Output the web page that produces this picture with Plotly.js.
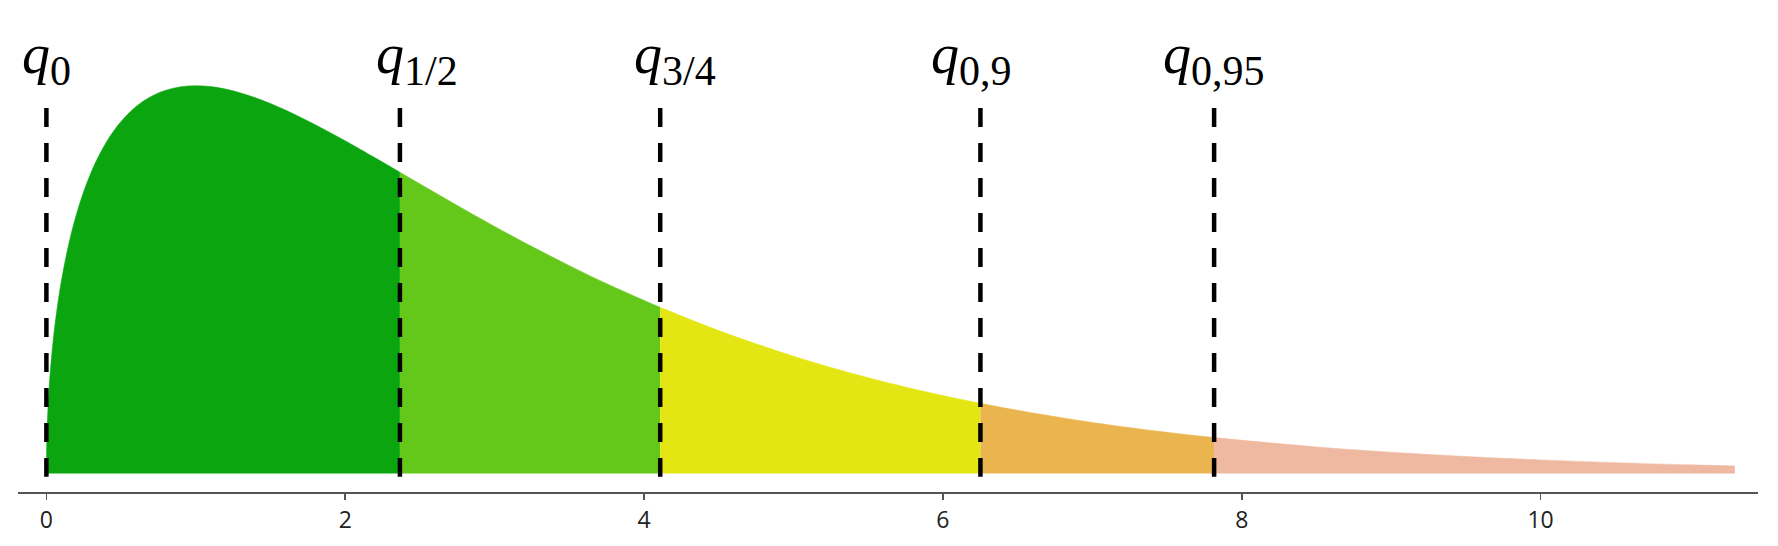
<!DOCTYPE html>
<html>
<head>
<meta charset="utf-8">
<script src="https://cdn.plot.ly/plotly-3.0.1.min.js"></script>
<style>html,body{margin:0;padding:0;background:#fff;}#chart{width:1778px;height:546px;}</style>
</head>
<body>
<div id="chart"></div>
<script>
// density curve (x, height)
const xs = [0, 0.001, 0.005, 0.01, 0.02, 0.03, 0.05, 0.07, 0.1, 0.15, 0.2, 0.25, 0.3, 0.35, 0.4, 0.45, 0.5,
  0.6, 0.7, 0.8, 0.9, 1.0, 1.1, 1.2, 1.3, 1.4, 1.5, 1.6, 1.7, 1.8, 1.9, 2.0, 2.1, 2.2, 2.366,
  2.6, 2.8, 3.0, 3.25, 3.5, 3.75, 4.108, 4.5, 5.0, 5.5, 6.0, 6.251, 6.5, 7.0, 7.5, 7.815,
  8.5, 9.0, 9.5, 10, 10.5, 11, 11.3];
const ys = [0, 0.01261, 0.02814, 0.03970, 0.05586, 0.06807, 0.08700, 0.10192, 0.12000, 0.14335, 0.16143,
  0.17603, 0.18807, 0.19813, 0.20658, 0.21370, 0.21970,
  0.22892, 0.23521, 0.23919, 0.24132, 0.24197, 0.24140, 0.23984, 0.23746, 0.23441, 0.23080, 0.22674,
  0.22232, 0.21761, 0.21267, 0.20756, 0.20231, 0.19697, 0.18798,
  0.17531, 0.16462, 0.15418, 0.14162, 0.12970, 0.11847, 0.10367, 0.08920, 0.07322, 0.05981, 0.04865,
  0.04380, 0.03944, 0.03187, 0.02569, 0.02241,
  0.01659, 0.01330, 0.01064, 0.00850, 0.00678, 0.00541, 0.00472];
// quantile positions and their labels
const quantiles = [0, 2.366, 4.108, 6.251, 7.815];
const qSymbol = 'q';
const qSubscripts = ['0', '1/2', '3/4', '0,9', '0,95'];
const xTicks = [0, 2, 4, 6, 8, 10];
const segColors = ['#0BA60F', '#64C81A', '#E3E612', '#EAB54E', '#EFB8A0'];

const bounds = quantiles.concat([Infinity]);
const traces = [];
for (let s = 0; s < segColors.length; s++) {
  const sx = [], sy = [];
  for (let i = 0; i < xs.length; i++) {
    if (xs[i] >= bounds[s] - 1e-9 && xs[i] <= bounds[s + 1] + 1e-9) { sx.push(xs[i]); sy.push(ys[i]); }
  }
  traces.push({
    x: sx, y: sy, type: 'scatter', mode: 'lines',
    fill: 'tozeroy', fillcolor: segColors[s],
    line: {color: segColors[s], width: 0.5, shape: 'spline', smoothing: 1},
    hoverinfo: 'skip', showlegend: false
  });
}

const lineTop = 0.228, lineBottom = -0.002;
const labelShift = [0, 17, 15, -9, 0];
const shapes = quantiles.map(q => ({
  type: 'line', xref: 'x', yref: 'y', x0: q, x1: q, y0: lineTop, y1: lineBottom,
  line: {color: '#000', width: 4.5, dash: '19px,16px'}
}));
const annotations = quantiles.map((q, i) => ({
  x: q, y: lineTop, xref: 'x', yref: 'y',
  text: '<i>' + qSymbol + '</i><sub><span style="font-size:42px">' + qSubscripts[i] + '</span></sub>',
  showarrow: false,
  xanchor: 'center', yanchor: 'bottom', xshift: labelShift[i], yshift: 12,
  font: {family: 'Liberation Serif, DejaVu Serif, serif', size: 56, color: '#000'}
}));

const layout = {
  width: 1778, height: 546,
  margin: {l: 18, r: 20, t: 20, b: 54},
  paper_bgcolor: '#fff', plot_bgcolor: '#fff',
  showlegend: false,
  xaxis: {
    range: [-0.19, 11.455], tickvals: xTicks, ticktext: xTicks.map(String),
    showgrid: false, zeroline: false, showline: true, linecolor: '#555', linewidth: 2,
    ticks: 'outside', ticklen: 6, tickcolor: '#555', tickwidth: 1.5,
    tickfont: {family: 'Open Sans, DejaVu Sans, sans-serif', size: 23, color: '#222'}
  },
  yaxis: {
    range: [-0.01153, 0.28295], visible: false, showgrid: false, zeroline: false
  },
  shapes: shapes,
  annotations: annotations
};
Plotly.newPlot('chart', traces, layout, {displayModeBar: false, staticPlot: true});
</script>
</body>
</html>
